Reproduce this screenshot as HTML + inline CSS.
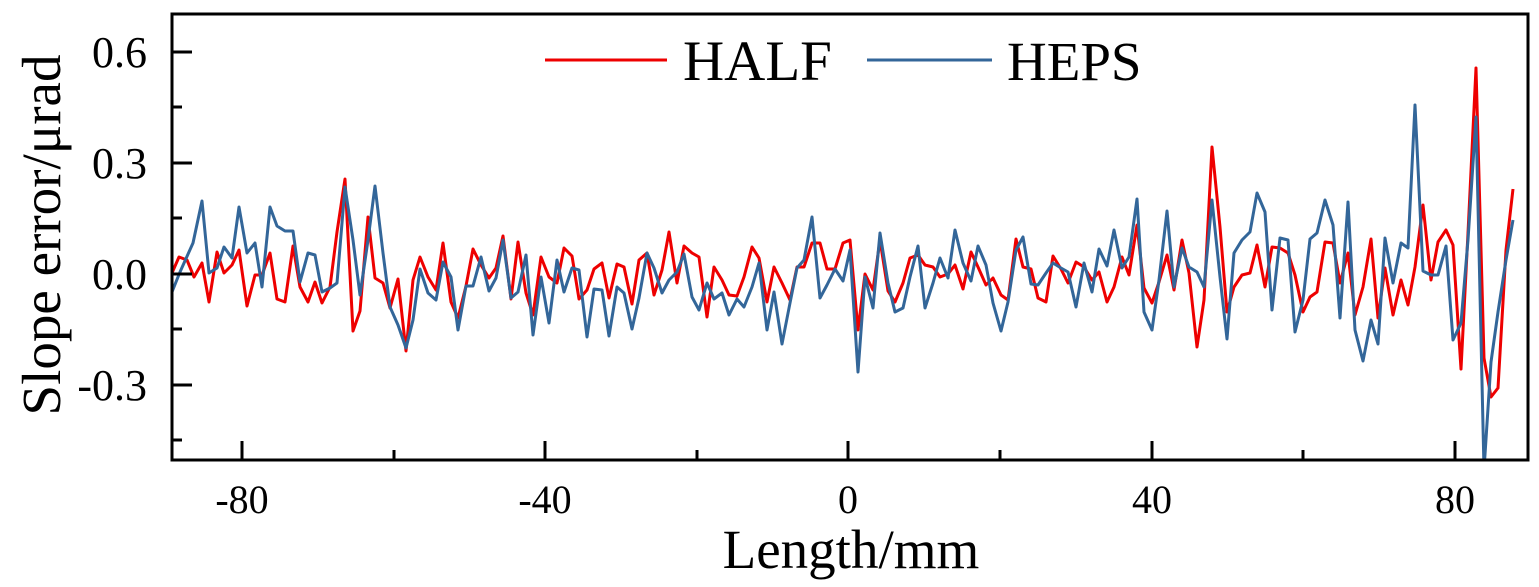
<!DOCTYPE html>
<html><head><meta charset="utf-8"><style>body{margin:0;background:#fff}svg{display:block}</style></head>
<body>
<svg width="1539" height="587" viewBox="0 0 1539 587" xmlns="http://www.w3.org/2000/svg" font-family="Liberation Serif, serif">
<defs><clipPath id="c"><rect x="172" y="14" width="1356" height="446"/></clipPath></defs>
<g clip-path="url(#c)" fill="none" stroke-width="3" stroke-linejoin="round">
<polyline stroke="#ee0000" points="172,273 179,257 187,260 194,277 202,263 209,302 217,252 224,273 232,265 239,250 247,306 255,275 262,275 270,253 277,299 285,302 293,246 300,287 308,302 315,282 322,303 330,287 337,232 345,179 353,331 360,311 368,217 375,278 383,283 390,308 398,279 406,351 413,280 420,257 428,277 436,290 443,243 451,302 458,318 466,286 473,249 481,265 489,278 496,268 503,236 511,299 518,242 526,293 533,315 541,257 549,277 557,283 564,248 572,256 579,299 587,290 594,269 602,263 609,298 617,264 624,267 632,304 639,260 647,253 654,295 662,270 669,232 677,283 684,246 692,253 699,257 707,317 714,267 722,280 729,295 737,296 744,277 752,247 759,258 767,302 774,267 782,283 790,300 797,267 804,267 812,243 820,243 827,269 835,269 843,243 850,240 858,330 865,274 873,290 880,240 888,291 895,302 903,283 910,258 918,255 925,265 933,267 940,277 948,274 955,265 963,289 971,252 978,267 986,285 993,278 1001,295 1008,300 1016,239 1023,267 1031,269 1038,298 1046,302 1053,256 1061,269 1068,283 1076,262 1084,267 1092,280 1099,272 1107,302 1114,287 1122,257 1129,275 1137,225 1144,288 1152,303 1159,282 1167,255 1174,290 1182,240 1189,273 1197,347 1204,300 1212,147 1220,227 1227,312 1234,287 1242,275 1250,273 1257,245 1265,287 1272,247 1280,248 1288,253 1295,275 1303,312 1310,297 1317,292 1325,242 1333,243 1340,283 1348,253 1355,315 1363,287 1371,239 1378,318 1385,268 1393,315 1401,280 1408,305 1415,267 1423,205 1431,280 1438,242 1446,230 1453,245 1461,369 1468,233 1476,68 1484,358 1491,397 1498,388 1506,250 1513,189"/>
<polyline stroke="#336699" points="172,292 180,272 193,243 202,201 209,273 217,268 224,247 232,258 239,207 247,253 255,243 262,287 270,207 277,226 285,231 293,231 300,282 308,253 315,255 322,292 330,288 337,283 345,187 353,240 360,295 368,240 375,186 383,253 390,307 398,325 406,348 413,320 420,269 428,293 436,300 443,262 451,277 458,330 466,286 473,286 481,257 489,291 496,278 503,240 511,298 518,292 526,255 533,335 541,277 549,323 557,260 564,292 572,268 579,270 587,337 594,289 602,290 609,336 617,287 624,293 632,329 639,298 647,253 654,268 662,293 669,280 677,272 684,254 692,297 699,310 707,283 714,299 722,293 729,315 737,299 744,307 752,287 759,263 767,330 774,292 782,344 790,303 797,268 804,260 812,217 820,298 827,285 835,269 843,281 850,250 858,372 865,277 873,308 880,233 888,283 895,312 903,308 910,277 918,246 925,308 933,283 940,258 948,278 955,230 963,263 971,281 978,246 986,265 993,303 1001,331 1008,302 1016,250 1023,237 1031,284 1038,285 1046,273 1053,263 1061,268 1068,272 1076,307 1084,263 1092,292 1099,249 1107,266 1114,230 1122,268 1129,257 1137,199 1144,312 1152,330 1159,280 1167,211 1174,287 1182,248 1189,267 1197,272 1204,287 1212,200 1220,277 1227,339 1234,253 1242,240 1250,232 1257,193 1265,212 1272,310 1280,238 1288,240 1295,332 1303,300 1310,239 1317,233 1325,200 1333,225 1340,318 1348,202 1355,330 1363,361 1371,320 1378,344 1385,238 1393,283 1401,243 1408,248 1415,105 1423,271 1431,275 1438,275 1446,246 1453,340 1461,323 1468,240 1476,117 1484,470 1491,362 1498,312 1506,260 1513,220"/>
</g>
<rect x="172" y="14" width="1356" height="446" fill="none" stroke="#000" stroke-width="3"/>
<g stroke="#000" stroke-width="3">
<line x1="172" y1="52" x2="192" y2="52"/><line x1="172" y1="163" x2="192" y2="163"/><line x1="172" y1="274" x2="192" y2="274"/><line x1="172" y1="385" x2="192" y2="385"/>
<line x1="172" y1="107" x2="182" y2="107"/><line x1="172" y1="218" x2="182" y2="218"/><line x1="172" y1="329" x2="182" y2="329"/><line x1="172" y1="440" x2="182" y2="440"/>
<line x1="242" y1="460" x2="242" y2="441"/><line x1="545" y1="460" x2="545" y2="441"/><line x1="848" y1="460" x2="848" y2="441"/><line x1="1152" y1="460" x2="1152" y2="441"/><line x1="1455" y1="460" x2="1455" y2="441"/>
<line x1="394" y1="460" x2="394" y2="450"/><line x1="697" y1="460" x2="697" y2="450"/><line x1="1000" y1="460" x2="1000" y2="450"/><line x1="1303" y1="460" x2="1303" y2="450"/>
</g>
<g font-size="44" fill="#000" text-anchor="end">
<text x="147" y="67">0.6</text><text x="147" y="178">0.3</text><text x="147" y="289">0.0</text><text x="147" y="400">-0.3</text>
</g>
<g font-size="40" fill="#000" text-anchor="middle">
<text x="242" y="513">-80</text><text x="545" y="513">-40</text><text x="848" y="513">0</text><text x="1152" y="513">40</text><text x="1455" y="513">80</text>
</g>
<text x="851" y="568" font-size="55" text-anchor="middle">Length/mm</text>
<text transform="translate(60,235) rotate(-90)" font-size="55" text-anchor="middle">Slope error/μrad</text>
<line x1="545" y1="60" x2="667" y2="60" stroke="#ee0000" stroke-width="3"/>
<text x="683" y="80" font-size="57">HALF</text>
<line x1="867" y1="60" x2="992" y2="60" stroke="#336699" stroke-width="3"/>
<text x="1007" y="80" font-size="55">HEPS</text>
</svg>
</body></html>
